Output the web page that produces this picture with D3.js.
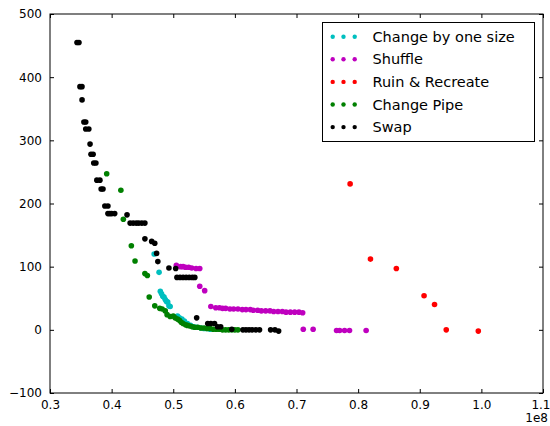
<!DOCTYPE html>
<html><head><meta charset="utf-8">
<script src="https://cdn.jsdelivr.net/npm/d3@7"></script>
<style>
html,body{margin:0;padding:0;background:#fff;}
text{font-family:"DejaVu Sans",sans-serif;}
</style></head>
<body><svg id="c" width="550" height="426"></svg>
<script>
// x values in units of 1e8
const seriesNames = ["Change by one size","Shuffle","Ruin & Recreate","Change Pipe","Swap"];
const seriesColors = ["#00bfbf","#bf00bf","#ff0000","#008000","#000000"];
const xTicks = [0.3,0.4,0.5,0.6,0.7,0.8,0.9,1.0,1.1];
const xTickLabels = ["0.3","0.4","0.5","0.6","0.7","0.8","0.9","1.0","1.1"];
const yTicks = [-100,0,100,200,300,400,500];
const yTickLabels = ["\u2212100","0","100","200","300","400","500"];

const cyanPts = [[0.469,120],[0.477,91],[0.479,61],[0.481,57],[0.483,53],[0.485,52],[0.487,48],[0.489,45],[0.491,44],[0.493,38],[0.495,37],[0.507,22],[0.510,19],[0.514,17],[0.518,14],[0.523,10],[0.528,7],[0.533,5],[0.538,4],[0.545,3],[0.550,2],[0.555,2],[0.560,1]];
const shufflePts = [[0.505,102],[0.512,100],[0.516,100],[0.520,99],[0.525,99],[0.530,98],[0.537,97],[0.543,97],[0.543,69],[0.551,62],[0.561,37],[0.569,35],[0.575,35],[0.580,34],[0.585,34],[0.592,33],[0.598,33],[0.605,33],[0.612,32],[0.618,32],[0.625,32],[0.630,31],[0.637,31],[0.643,30],[0.650,30],[0.657,30],[0.663,29],[0.670,29],[0.677,29],[0.683,28],[0.690,28],[0.697,28],[0.704,28],[0.710,27],[0.711,1],[0.727,1],[0.765,-1],[0.770,-1],[0.778,-1],[0.786,-1],[0.813,-1]];
const ruinPts = [[0.787,231],[0.820,112],[0.862,97],[0.907,54],[0.924,40],[0.943,0],[0.995,-2]];
const pipePts = [[0.392,247],[0.415,221],[0.419,175],[0.432,133],[0.438,109],[0.454,89],[0.458,86],[0.461,52],[0.470,38],[0.478,34],[0.482,33],[0.487,30],[0.490,24],[0.495,21],[0.500,22],[0.503,19],[0.507,17],[0.510,15],[0.513,12],[0.516,10],[0.520,8],[0.523,7],[0.527,6],[0.531,5],[0.535,4],[0.540,4],[0.545,3],[0.550,3],[0.555,2],[0.560,2],[0.565,1],[0.570,1],[0.575,1],[0.580,0],[0.585,0],[0.590,0],[0.595,0],[0.600,0],[0.605,0]];
const swapPts = [[0.3438,455],[0.347,455],[0.3486,385],[0.3519,385],[0.352,364],[0.355,329],[0.358,329],[0.358,318],[0.363,318],[0.365,294],[0.3665,278],[0.370,278],[0.371,264],[0.3745,264],[0.376,237],[0.381,237],[0.383,223],[0.386,223],[0.389,196],[0.394,196],[0.394,184],[0.397,184],[0.400,184],[0.405,184],[0.425,182],[0.430,169],[0.435,169],[0.440,169],[0.444,169],[0.449,169],[0.454,169],[0.454,144],[0.465,140],[0.470,137],[0.473,121],[0.475,108],[0.493,98],[0.504,97],[0.506,83],[0.511,83],[0.516,83],[0.521,83],[0.526,83],[0.531,83],[0.535,83],[0.538,19],[0.556,10],[0.561,10],[0.567,10],[0.572,5],[0.577,5],[0.595,1],[0.613,0],[0.618,0],[0.623,0],[0.628,0],[0.634,0],[0.640,0],[0.658,0],[0.665,0],[0.671,-2]];
const allSeries = [cyanPts, shufflePts, ruinPts, pipePts, swapPts];

const svg = d3.select("#c");
const L=50, R=543, T=14, B=393;
const x = d3.scaleLinear().domain([0.3,1.1]).range([L,R]);
const y = d3.scaleLinear().domain([-100,500]).range([B,T]);

// points
allSeries.forEach((pts,i)=>{
  svg.append("g").selectAll("circle").data(pts).join("circle")
    .attr("cx",d=>x(d[0])).attr("cy",d=>y(d[1])).attr("r",2.8)
    .attr("fill",seriesColors[i]);
});

// axes (ticks inside on all sides)
const tl = 4;
const xb = svg.append("g").attr("transform",`translate(0,${B})`)
  .call(d3.axisBottom(x).tickValues(xTicks).tickFormat((d,i)=>xTickLabels[i]).tickSizeInner(-tl).tickSizeOuter(0).tickPadding(7));
const xt = svg.append("g").attr("transform",`translate(0,${T})`)
  .call(d3.axisTop(x).tickValues(xTicks).tickFormat("").tickSizeInner(-tl).tickSizeOuter(0));
const yl = svg.append("g").attr("transform",`translate(${L},0)`)
  .call(d3.axisLeft(y).tickValues(yTicks).tickFormat((d,i)=>yTickLabels[i]).tickSizeInner(-tl).tickSizeOuter(0).tickPadding(8));
const yr = svg.append("g").attr("transform",`translate(${R},0)`)
  .call(d3.axisRight(y).tickValues(yTicks).tickFormat("").tickSizeInner(-tl).tickSizeOuter(0));
[xb,xt,yl,yr].forEach(g=>{
  g.select(".domain").remove();
  g.selectAll("line").attr("stroke","#000").attr("stroke-width",1);
  g.selectAll("text").attr("font-size",12).attr("fill","#000").attr("font-family","DejaVu Sans");
});
// keep the last x label inside the window
xb.selectAll(".tick text").filter((d,i)=>i===xTicks.length-1).attr("text-anchor","end").attr("dx",7);
svg.append("rect").attr("x",L).attr("y",T).attr("width",R-L).attr("height",B-T)
  .attr("fill","none").attr("stroke","#000").attr("stroke-width",1);

svg.append("text").attr("x",548).attr("y",422).attr("text-anchor","end")
  .attr("font-size",12).text("1e8");

// legend
const lg = svg.append("g");
lg.append("rect").attr("x",322.5).attr("y",22.5).attr("width",212).attr("height",119)
  .attr("fill","#fff").attr("stroke","#000").attr("stroke-width",1);
seriesNames.forEach((n,i)=>{
  const cy = 36.7 + i*22.6;
  [332.7,343.5,354.7].forEach(cx=>{
    lg.append("circle").attr("cx",cx).attr("cy",cy).attr("r",2.2).attr("fill",seriesColors[i]);
  });
  lg.append("text").attr("x",372.5).attr("y",cy+5).attr("font-size",14.5).attr("fill","#000").text(n);
});
</script></body></html>
